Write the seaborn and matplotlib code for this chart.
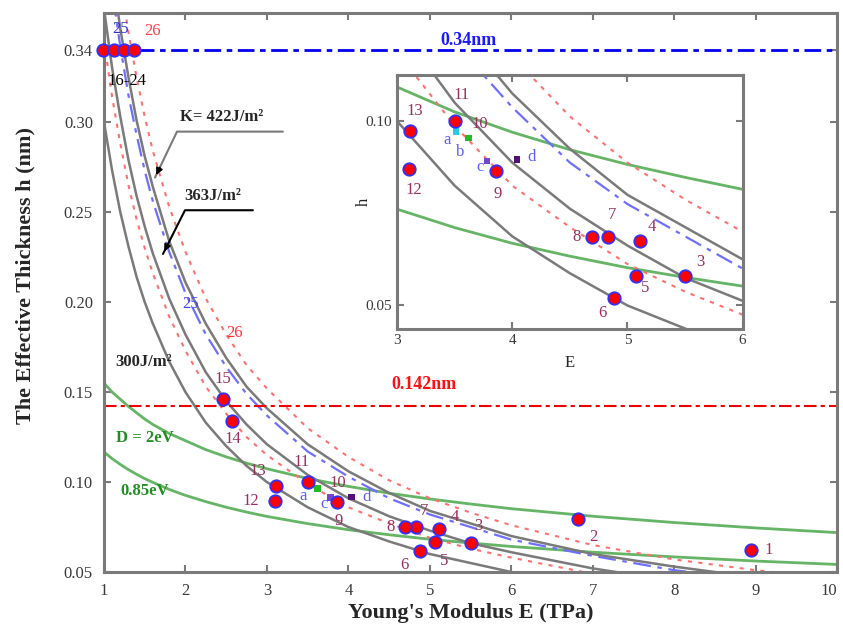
import matplotlib
matplotlib.use("Agg")
import matplotlib.pyplot as plt
import seaborn as sns

# Curves on a common E grid (TPa) -> h (nm)
E_grid = [1.0, 1.1, 1.2, 1.3, 1.4, 1.5, 1.6, 1.8, 2.0, 2.25, 2.5, 2.75,
          3.0, 3.5, 4.0, 4.5, 5.0, 5.5, 6.0, 7.0, 8.0, 9.0, 10.0]
h_K300 = [0.300, 0.273, 0.250, 0.231, 0.214, 0.200, 0.188, 0.167, 0.150, 0.133, 0.120, 0.109,
          0.100, 0.086, 0.075, 0.067, 0.060, 0.055, 0.050, 0.043, 0.038, 0.033, 0.030]
h_K363 = [0.363, 0.330, 0.303, 0.279, 0.259, 0.242, 0.227, 0.202, 0.182, 0.161, 0.145, 0.132,
          0.121, 0.104, 0.091, 0.081, 0.073, 0.066, 0.061, 0.052, 0.045, 0.040, 0.036]
h_K422 = [0.422, 0.384, 0.352, 0.325, 0.301, 0.281, 0.264, 0.234, 0.211, 0.188, 0.169, 0.153,
          0.141, 0.121, 0.106, 0.094, 0.084, 0.077, 0.070, 0.060, 0.053, 0.047, 0.042]
h_blue = [0.410, 0.373, 0.342, 0.315, 0.293, 0.273, 0.256, 0.228, 0.205, 0.182, 0.164, 0.149,
          0.137, 0.117, 0.103, 0.091, 0.082, 0.075, 0.068, 0.059, 0.051, 0.046, 0.041]
h_red_lo = [0.345, 0.314, 0.288, 0.265, 0.246, 0.230, 0.216, 0.192, 0.173, 0.153, 0.138, 0.125,
            0.115, 0.099, 0.086, 0.077, 0.069, 0.063, 0.058, 0.049, 0.043, 0.038, 0.035]
h_red_hi = [0.455, 0.414, 0.379, 0.350, 0.325, 0.303, 0.284, 0.253, 0.228, 0.202, 0.182, 0.165,
            0.152, 0.130, 0.114, 0.101, 0.091, 0.083, 0.076, 0.065, 0.057, 0.051, 0.046]
h_D2 = [0.155, 0.150, 0.146, 0.142, 0.1385, 0.135, 0.132, 0.127, 0.123, 0.118, 0.114, 0.1105,
        0.1074, 0.102, 0.0976, 0.0938, 0.0906, 0.0878, 0.0852, 0.081, 0.0775, 0.0745, 0.0719]
h_D085 = [0.1167, 0.113, 0.1098, 0.1069, 0.1043, 0.1019, 0.0998, 0.0959, 0.0926, 0.0891, 0.086, 0.0833,
          0.0809, 0.0769, 0.0735, 0.0707, 0.0682, 0.0661, 0.0642, 0.061, 0.0584, 0.0561, 0.0542]

# numbered data points
pt_labels = ["1", "2", "3", "4", "5", "6", "7", "8", "9", "11", "12", "13", "14", "15"]
pt_E = [8.95, 6.82, 5.50, 5.11, 5.07, 4.88, 4.83, 4.69, 3.86, 3.50, 3.10, 3.11, 2.57, 2.46]
pt_h = [0.0622, 0.0793, 0.0663, 0.0740, 0.0664, 0.0616, 0.0749, 0.0749, 0.0891, 0.1000,
        0.0897, 0.0978, 0.134, 0.146]
# points 16-24 sitting on h = 0.34 nm
top_E = [0.99, 1.12, 1.25, 1.37]
top_h = [0.34, 0.34, 0.34, 0.34]
# small markers a-d
small_labels = ["a", "b", "c", "d"]
small_E = [3.51, 3.62, 3.78, 4.04]
small_h = [0.0978, 0.0963, 0.0913, 0.0917]
small_colors = ["#22ccee", "#22bb22", "#7744cc", "#551177"]

x_ticks = [1, 2, 3, 4, 5, 6, 7, 8, 9, 10]
y_ticks = [0.05, 0.10, 0.15, 0.20, 0.25, 0.30, 0.34]
y_ticklabels = ["0.05", "0.10", "0.15", "0.20", "0.25", "0.30", "0.34"]

sns.set_style("ticks")
plt.rcParams["font.family"] = ["Liberation Serif", "DejaVu Serif"]

LBL = "#9b2f5f"
GREY = "#7a7a7a"
fig = plt.figure(figsize=(8.43, 6.31), dpi=100)
ax = fig.add_axes([0.1234, 0.0935, 0.8695, 0.8855])
ins = fig.add_axes([0.471, 0.4786, 0.410, 0.4025])


def draw_curves(a):
    sns.lineplot(x=E_grid, y=h_D2, ax=a, color="#66b466", lw=2.0, legend=False)
    sns.lineplot(x=E_grid, y=h_D085, ax=a, color="#66b466", lw=2.0, legend=False)
    for h in (h_red_lo, h_red_hi):
        sns.lineplot(x=E_grid, y=h, ax=a, color="#ff7070", lw=1.5,
                     linestyle=(0, (2, 3)), legend=False)
    sns.lineplot(x=E_grid, y=h_blue, ax=a, color="#6f6fff", lw=1.6,
                 linestyle=(0, (8, 3, 2, 3)), legend=False)
    for h in (h_K300, h_K363, h_K422):
        sns.lineplot(x=E_grid, y=h, ax=a, color=GREY, lw=1.8, legend=False)


def draw_points(a, offsets):
    sns.scatterplot(x=small_E, y=small_h, ax=a, hue=small_labels, palette=small_colors,
                    marker="s", s=22, edgecolor="none", legend=False, zorder=5)
    sns.scatterplot(x=pt_E, y=pt_h, ax=a, color="red", edgecolor="#3030ff",
                    linewidth=1.3, s=80, zorder=6, legend=False)
    for lab, e, h in zip(pt_labels, pt_E, pt_h):
        if lab in offsets:
            a.annotate(lab, (e, h), xytext=offsets[lab], textcoords="offset pixels",
                       ha="center", va="center", fontsize=12, color=LBL, annotation_clip=True)


def style(a, fs):
    for sp in a.spines.values():
        sp.set_color(GREY)
        sp.set_linewidth(2.2)
    a.tick_params(direction="in", length=5, width=1.5, color=GREY, labelsize=fs,
                  labelcolor="#3a3a3a", top=True, right=True)


# ---- main axes ----
draw_curves(ax)
ax.axhline(0.34, color="#0000ee", lw=2, linestyle=(0, (6, 2, 2, 2)))
ax.axhline(0.142, color="#ee0000", lw=1.5, linestyle=(0, (6, 2, 2, 2)))
sns.scatterplot(x=top_E, y=top_h, ax=ax, color="red", edgecolor="#3030ff",
                linewidth=1.3, s=80, zorder=6, legend=False, clip_on=False)
main_off = {"1": (17, 0), "2": (15, -18), "3": (8, 17), "4": (16, 12), "5": (9, -19),
            "6": (-16, -14), "7": (8, 16), "8": (-14, 0), "9": (2, -19), "11": (-6, 20),
            "12": (-24, 0), "13": (-18, 15), "14": (1, -18), "15": (0, 20)}
draw_points(ax, main_off)
ax.text(3.87, 0.0997, "10", fontsize=12, color=LBL, ha="center", va="center")
ax.text(3.45, 0.0925, "a", fontsize=12, color="#5c5cff", ha="center", va="center")
ax.text(3.70, 0.0880, "c", fontsize=12, color="#5c5cff", ha="center", va="center")
ax.text(4.22, 0.0915, "d", fontsize=12, color="#5c5cff", ha="center", va="center")

ax.set_xlim(1, 10)
ax.set_ylim(0.05, 0.3606)
ax.set_xticks(x_ticks)
ax.set_yticks(y_ticks)
ax.set_yticklabels(y_ticklabels)
style(ax, 12)
ax.tick_params(pad=8)
ax.get_xticklabels()[-1].set_horizontalalignment("right")
ax.set_xlabel("Young's Modulus E (TPa)", fontsize=16, fontweight="bold", labelpad=3)
ax.set_ylabel("The Effective Thickness h (nm)", fontsize=16, fontweight="bold")
ax.yaxis.set_label_coords(-0.094, 0.531)

# annotations in the main panel
ax.text(5.47, 0.3456, "0.34nm", color="#1a1aff", fontsize=13, fontweight="bold",
        ha="center", va="center")
ax.text(4.93, 0.1544, "0.142nm", color="#ff1010", fontsize=13, fontweight="bold",
        ha="center", va="center")
ax.text(1.20, 0.352, "25", color="#3030dd", fontsize=12, ha="center", va="center")
ax.text(1.59, 0.3505, "26", color="#ff4040", fontsize=12, ha="center", va="center")
ax.text(1.28, 0.323, "16-24", color="black", fontsize=12, ha="center", va="center")
ax.text(2.06, 0.199, "25", color="#4040ff", fontsize=12, ha="center", va="center")
ax.text(2.60, 0.183, "26", color="#ff3030", fontsize=12, ha="center", va="center")
ax.text(1.93, 0.2985, "K= 422J/m²", fontsize=12, fontweight="bold", va="bottom")
ax.plot([3.196, 1.896, 1.626], [0.2948, 0.2948, 0.2693], color=GREY, lw=1.5)
ax.annotate("", xy=(1.626, 0.2693), xytext=(1.70, 0.2763),
            arrowprops=dict(arrowstyle="-|>", color="black", lw=1.2))
ax.text(1.99, 0.2545, "363J/m²", fontsize=12, fontweight="bold", va="bottom")
ax.plot([2.828, 1.994, 1.724], [0.2511, 0.2511, 0.2268], color="black", lw=1.5)
ax.annotate("", xy=(1.724, 0.2268), xytext=(1.80, 0.2337),
            arrowprops=dict(arrowstyle="-|>", color="black", lw=1.2))
ax.text(1.135, 0.167, "300J/m²", fontsize=12, fontweight="bold", va="center")
ax.text(1.15, 0.1246, "D = 2eV", color="#1f8f1f", fontsize=12, fontweight="bold", va="center")
ax.text(1.20, 0.0953, "0.85eV", color="#1f8f1f", fontsize=12, fontweight="bold", va="center")

# ---- inset ----
ins.set_facecolor("white")
draw_curves(ins)
ins_off = {"3": (15, 14), "4": (12, 14), "5": (10, -12), "6": (-11, -15), "7": (4, 22),
           "8": (-15, 0), "9": (1, -23), "11": (7, 26), "12": (5, -21), "13": (5, 20)}
draw_points(ins, ins_off)
ins.text(3.72, 0.0993, "10", fontsize=12, color=LBL, ha="center", va="center")
for lab, e, h in zip(small_labels, [3.43, 3.55, 3.72, 4.17], [0.0960, 0.0932, 0.0900, 0.0923]):
    ins.text(e, h, lab, fontsize=12, color="#5c5cff", ha="center", va="center")
ins.set_xlim(3, 6)
ins.set_ylim(0.0549, 0.110)
ins.set_xticks([3, 4, 5, 6])
ins.set_yticks([0.06, 0.10])
ins.set_yticklabels(["0.05", "0.10"])
style(ins, 11)
ins.set_xlabel("E", fontsize=12, labelpad=6)
ins.set_ylabel("h", fontsize=12)
ins.yaxis.set_label_coords(-0.072, 0.5)

fig.savefig("out.png", dpi=100)
